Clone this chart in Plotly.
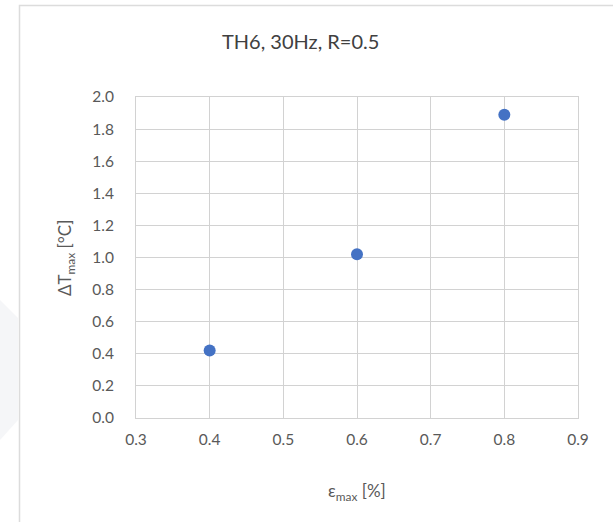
import plotly.graph_objects as go

# Peak strain vs. peak temperature rise
strain_max = [0.4, 0.6, 0.8]
delta_t_max = [0.42, 1.02, 1.89]

x_ticks = [0.3, 0.4, 0.5, 0.6, 0.7, 0.8, 0.9]
y_ticks = [0.0, 0.2, 0.4, 0.6, 0.8, 1.0, 1.2, 1.4, 1.6, 1.8, 2.0]

W, H = 613, 522
L, R, T, B = 136, 35, 97, 104
PW, PH = W - L - R, H - T - B


def px(x):
    return (x - L) / PW


def py(y):
    return (H - B - y) / PH


FONT = "Lato, 'Open Sans', sans-serif"
GRID = "#d2d2d2"
TEXT = "#595959"

fig = go.Figure()
fig.add_trace(go.Scatter(
    x=strain_max, y=delta_t_max, mode="markers",
    marker=dict(size=12, color="#4472c4", line=dict(width=0)),
    hoverinfo="x+y", showlegend=False,
))

fig.update_layout(
    width=W, height=H,
    margin=dict(l=L, r=R, t=T, b=B),
    paper_bgcolor="white", plot_bgcolor="white",
    font=dict(family=FONT, color=TEXT, size=15),
    xaxis=dict(
        range=[0.3, 0.9], tickvals=x_ticks,
        ticktext=[f"{v:.1f}" for v in x_ticks],
        showgrid=True, gridcolor=GRID, gridwidth=1,
        showline=True, linecolor=GRID, linewidth=1, mirror=True,
        zeroline=False, ticks="outside", ticklen=7, tickcolor="rgba(0,0,0,0)",
        tickfont=dict(size=15.5, color=TEXT),
    ),
    yaxis=dict(
        range=[0, 2.0], tickvals=y_ticks,
        ticktext=[f"{v:.1f}" for v in y_ticks],
        showgrid=True, gridcolor=GRID, gridwidth=1,
        showline=True, linecolor=GRID, linewidth=1, mirror=True,
        zeroline=False, ticks="outside", ticklen=18, tickcolor="rgba(0,0,0,0)",
        tickfont=dict(size=15.5, color=TEXT),
    ),
    annotations=[
        dict(text="TH6, 30Hz, R=0.5", xref="paper", yref="paper",
             x=px(300), y=py(41), xanchor="center", yanchor="middle",
             showarrow=False,
             font=dict(size=20, color="#404040", family=FONT)),
        dict(text="ε<sub>max</sub> [%]", xref="paper", yref="paper",
             x=px(357), y=py(492), xanchor="center", yanchor="middle",
             showarrow=False,
             font=dict(size=17, color=TEXT, family=FONT)),
        dict(text="ΔT<sub>max</sub> [°C]", xref="paper", yref="paper",
             x=px(66), y=py(258), xanchor="center", yanchor="middle",
             showarrow=False, textangle=-90,
             font=dict(size=17, color=TEXT, family=FONT)),
    ],
    shapes=[
        # chart-area frame
        dict(type="rect", xref="paper", yref="paper",
             x0=px(19.5), y0=py(530), x1=px(640), y1=py(5.5),
             line=dict(color="#dcdcdc", width=1.5), fillcolor="rgba(0,0,0,0)",
             layer="below"),
        # faint backdrop wedge at the left margin
        dict(type="path", xref="paper", yref="paper",
             path=(f"M {px(0)} {py(300)} L {px(18)} {py(318)} "
                   f"L {px(18)} {py(420)} L {px(0)} {py(440)} Z"),
             line=dict(width=0), fillcolor="#f5f6f8", layer="below"),
    ],
)

fig.write_html("out.html")
